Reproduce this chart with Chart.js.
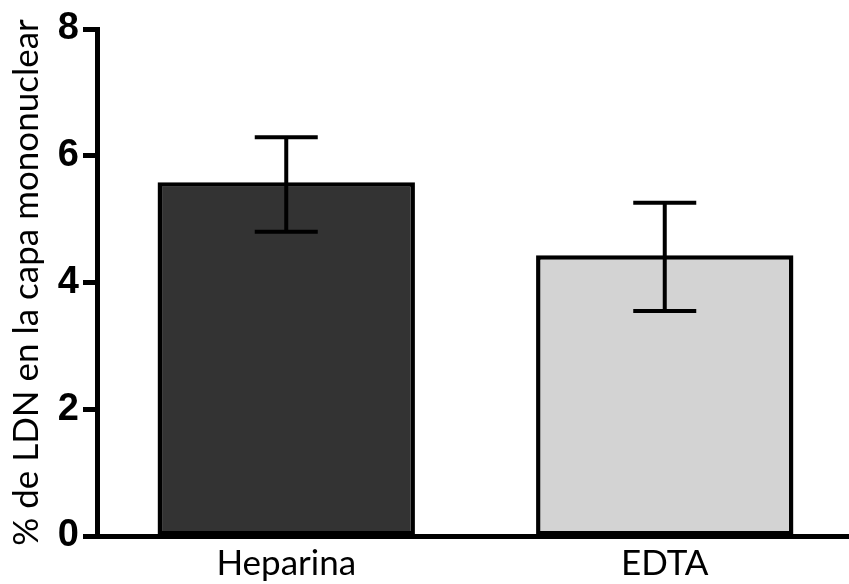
<!DOCTYPE html>
<html>
<head>
<meta charset="utf-8">
<script src="https://cdn.jsdelivr.net/npm/chart.js@4"></script>
<style>
  html, body { margin: 0; padding: 0; background: #ffffff; overflow: hidden; }
  #wrap { width: 854px; height: 584px; }
</style>
</head>
<body>
<div id="wrap"><canvas id="c" width="854" height="584"></canvas></div>
<script>
// Groups and measured means with their error ranges
const categories = ['Heparina', 'EDTA'];
const means = [5.58, 4.43];
const errLow = [4.80, 3.55];
const errHigh = [6.29, 5.26];
const yTicks = [0, 2, 4, 6, 8];
const barColors = ['#333333', '#d3d3d3'];

// Draws vertical error bars with caps over each bar
const errorBars = {
  id: 'errorBars',
  afterDatasetsDraw(chart) {
    const ctx = chart.ctx;
    const meta = chart.getDatasetMeta(0);
    const y = chart.scales.y;
    const capHalf = 31.5;
    ctx.save();
    ctx.strokeStyle = '#000000';
    ctx.lineWidth = 4;
    ctx.lineCap = 'butt';
    meta.data.forEach((bar, i) => {
      const x = bar.x;
      const yHi = y.getPixelForValue(errHigh[i]);
      const yLo = y.getPixelForValue(errLow[i]);
      ctx.beginPath();
      ctx.moveTo(x, yHi);
      ctx.lineTo(x, yLo);
      ctx.moveTo(x - capHalf, yHi);
      ctx.lineTo(x + capHalf, yHi);
      ctx.moveTo(x - capHalf, yLo);
      ctx.lineTo(x + capHalf, yLo);
      ctx.stroke();
    });
    ctx.restore();
  }
};

new Chart(document.getElementById('c'), {
  type: 'bar',
  data: {
    labels: categories,
    datasets: [{
      data: means,
      backgroundColor: barColors,
      borderColor: '#000000',
      borderWidth: 4.5,
      borderSkipped: false,
      barPercentage: 1,
      categoryPercentage: 0.68
    }]
  },
  options: {
    responsive: false,
    animation: false,
    devicePixelRatio: 1,
    layout: { padding: { top: 29, right: 0, bottom: 0, left: 0 } },
    plugins: {
      legend: { display: false },
      tooltip: { enabled: false }
    },
    scales: {
      x: {
        grid: { display: false, drawTicks: false },
        border: { display: true, color: '#000000', width: 5 },
        ticks: {
          color: '#000000',
          padding: 7,
          font: { family: 'Lato', size: 35 }
        },
        afterFit(s) { s.height = 48; }
      },
      y: {
        min: 0,
        max: 8,
        afterBuildTicks(s) { s.ticks = yTicks.map(v => ({ value: v })); },
        grid: {
          drawOnChartArea: false,
          drawTicks: true,
          tickLength: 14,
          tickWidth: 5,
          tickColor: '#000000'
        },
        border: { display: true, color: '#000000', width: 5 },
        ticks: {
          color: '#000000',
          padding: 4,
          font: { family: 'Liberation Sans', size: 38, weight: 'bold' }
        },
        title: {
          display: true,
          text: '% de LDN en la capa mononuclear',
          color: '#000000',
          padding: { top: 6, bottom: 0 },
          font: { family: 'Lato', size: 35 }
        },
        afterFit(s) { s.width = 97; }
      }
    }
  },
  plugins: [errorBars]
});
</script>
</body>
</html>
